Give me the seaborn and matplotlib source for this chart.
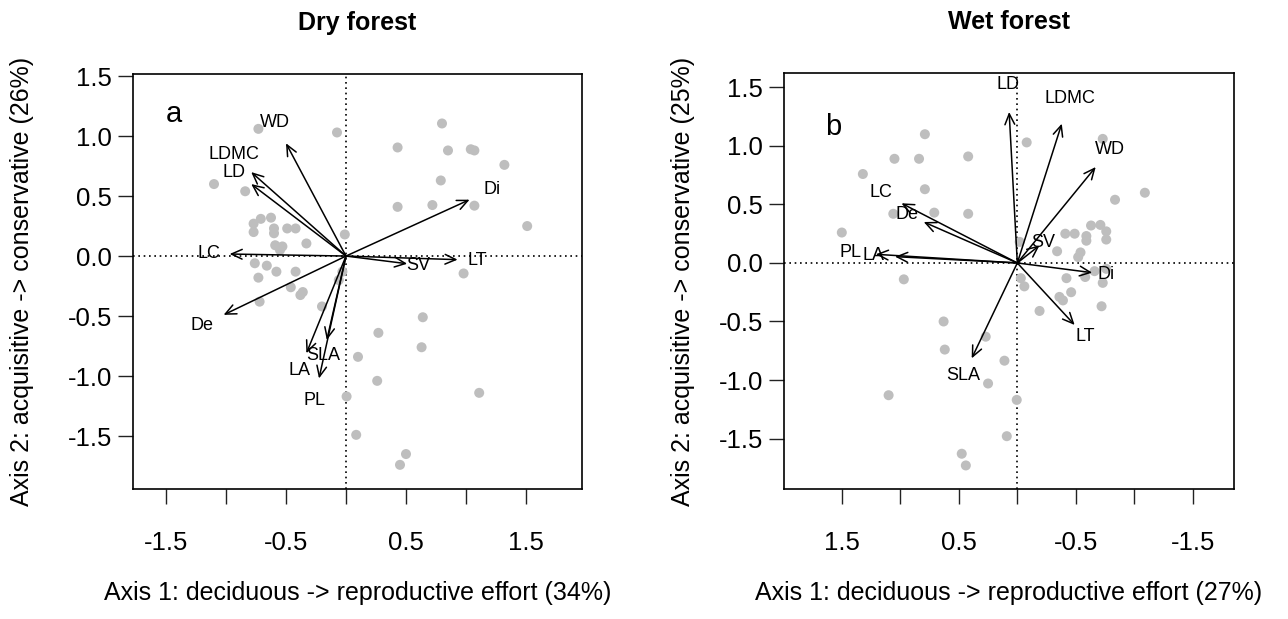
import numpy as np
import pandas as pd
import matplotlib
matplotlib.use("Agg")
import matplotlib.pyplot as plt
import seaborn as sns

# --- data ---
# Dry forest (panel a): species scores
dry_x = [-0.73, -0.075, -1.10, -0.84, -0.71, -0.625, -0.77, -0.77, -0.60, -0.60,
         -0.49, -0.42, -0.33, -0.59, -0.53, -0.55, -0.01, -0.76, -0.66, -0.58,
         -0.42, -0.73, -0.46, -0.36, -0.38, -0.72, -0.20, -0.03, -0.06, 0.10,
         0.005, 0.085, 0.98, 0.64, 0.27, 0.63, 0.26, 1.11, 0.50, 0.45,
         0.80, 0.43, 0.85, 1.04, 1.07, 1.32, 0.79, 0.43, 0.72, 1.07, 1.51]
dry_y = [1.06, 1.03, 0.60, 0.54, 0.31, 0.32, 0.27, 0.20, 0.23, 0.19,
         0.23, 0.23, 0.105, 0.09, 0.08, 0.05, 0.18, -0.06, -0.08, -0.13,
         -0.13, -0.18, -0.26, -0.30, -0.325, -0.38, -0.42, -0.13, -0.20, -0.84,
         -1.17, -1.49, -0.145, -0.51, -0.64, -0.76, -1.04, -1.14, -1.65, -1.74,
         1.105, 0.905, 0.88, 0.89, 0.88, 0.76, 0.63, 0.41, 0.425, 0.42, 0.25]

# Dry forest: trait vectors
dry_traits = ["WD", "LDMC", "LD", "LC", "Di", "LT", "SV", "De", "LA", "SLA", "PL"]
dry_tx = [-0.50, -0.79, -0.79, -0.97, 1.03, 0.93, 0.51, -1.02, -0.33, -0.16, -0.225]
dry_ty = [0.94, 0.70, 0.60, 0.017, 0.47, -0.03, -0.064, -0.49, -0.81, -0.70, -1.02]

# Wet forest (panel b): species scores
wet_x = [0.79, 1.05, 0.84, 0.42, 1.32, 0.79, 1.06, 0.71, 0.42, 1.50, 0.97,
         -0.08, -0.73, -1.09, -0.835, -0.63, -0.71, -0.76, -0.41, -0.49, -0.59,
         -0.59, -0.76, -0.02, -0.34, -0.54, -0.52, -0.66, -0.76, -0.42, -0.58,
         -0.73, -0.03, -0.06, -0.46, -0.36, -0.39, -0.72, -0.19, 0.27, 0.11,
         0.25, 0.005, 0.09, 0.475, 0.44, 0.63, 0.62, 1.10]
wet_y = [1.10, 0.89, 0.89, 0.91, 0.76, 0.63, 0.42, 0.43, 0.42, 0.26, -0.14,
         1.03, 1.06, 0.60, 0.54, 0.32, 0.325, 0.27, 0.25, 0.25, 0.23,
         0.19, 0.20, 0.18, 0.10, 0.09, 0.05, -0.07, -0.05, -0.13, -0.12,
         -0.17, -0.13, -0.20, -0.25, -0.29, -0.32, -0.37, -0.41, -0.63, -0.835,
         -1.03, -1.17, -1.48, -1.63, -1.73, -0.50, -0.74, -1.13]

# Wet forest: trait vectors
wet_traits = ["LC", "De", "PL", "LA", "LD", "LDMC", "WD", "SV", "Di", "LT", "SLA"]
wet_tx = [0.99, 0.80, 1.21, 1.045, 0.07, -0.38, -0.67, -0.19, -0.64, -0.49, 0.39]
wet_ty = [0.51, 0.35, 0.074, 0.054, 1.29, 1.19, 0.82, 0.15, -0.083, -0.53, -0.815]

ticks = [-1.5, -1.0, -0.5, 0.0, 0.5, 1.0, 1.5]
xtick_labels = ["-1.5", "", "-0.5", "", "0.5", "", "1.5"]
ytick_labels = ["-1.5", "-1.0", "-0.5", "0.0", "0.5", "1.0", "1.5"]

sns.set_style("ticks")
plt.rcParams['font.family'] = ['Liberation Sans', 'DejaVu Sans']
plt.rcParams['axes.unicode_minus'] = False
plt.rcParams['text.color'] = 'black'
plt.rcParams['axes.labelcolor'] = 'black'
plt.rcParams['xtick.color'] = 'black'
plt.rcParams['ytick.color'] = 'black'


def draw_panel(ax, px, py, traits, tx, ty, xlim, ylim, letter, letter_pos,
               title, xlab, ylab, ylab_x, nudge=None):
    nudge = nudge or {}
    df = pd.DataFrame({"x": px, "y": py})
    sns.scatterplot(data=df, x="x", y="y", ax=ax, color="#BEBEBE", s=52,
                    edgecolor="none", linewidth=0, zorder=2)
    ax.axhline(0, color="black", lw=1.2, ls=(0, (1, 2.2)), zorder=1)
    ax.axvline(0, color="black", lw=1.2, ls=(0, (1, 2.2)), zorder=1)
    for name, x, y in zip(traits, tx, ty):
        ax.annotate("", xy=(x, y), xytext=(0, 0),
                    arrowprops=dict(arrowstyle="->,head_length=0.55,head_width=0.25",
                                    lw=1.1, color="black", shrinkA=0, shrinkB=0,
                                    mutation_scale=14), zorder=3)
        # label just beyond the arrow tip (small nudge where two labels collide)
        ax.annotate(name, xy=(x * 1.18, y * 1.18), xytext=nudge.get(name, (0, 0)),
                    textcoords="offset points", ha="center", va="center",
                    fontsize=13, color="black", zorder=4)
    ax.text(letter_pos[0], letter_pos[1], letter, transform=ax.transAxes,
            ha="center", va="center", fontsize=21, color="black")

    ax.set_xlim(*xlim)
    ax.set_ylim(*ylim)
    ax.set_xticks(ticks)
    ax.set_xticklabels(xtick_labels)
    ax.set_yticks(ticks)
    ax.set_yticklabels(ytick_labels)
    ax.tick_params(axis="both", direction="out", length=10.8, width=1.0,
                   labelsize=18.5, color="#222222", labelcolor="black")
    ax.tick_params(axis="x", pad=19)
    ax.tick_params(axis="y", pad=4.5)
    for sp in ax.spines.values():
        sp.set_visible(True)
        sp.set_color("black")
        sp.set_linewidth(1.2)

    ax.set_title(title, fontsize=18, fontweight="bold", pad=32, color="black")
    ax.set_xlabel(xlab, fontsize=18)
    ax.set_ylabel(ylab, fontsize=18)
    ax.xaxis.set_label_coords(0.5, -0.25)
    ax.xaxis.label.set_va("center")
    ax.yaxis.set_label_coords(ylab_x, 0.5)
    ax.yaxis.label.set_va("center")


fig = plt.figure(figsize=(12.88, 6.19), dpi=100)
ax_a = fig.add_axes([0.1035, 0.2095, 0.3481, 0.6709])
ax_b = fig.add_axes([0.6087, 0.2095, 0.3493, 0.672])

draw_panel(ax_a, dry_x, dry_y, dry_traits, dry_tx, dry_ty,
           (-1.7725, 1.964), (-1.944, 1.517), "a", (0.091, 0.904),
           "Dry forest", "Axis 1: deciduous -> reproductive effort (34%)",
           "Axis 2: acquisitive -> conservative (26%)", -0.248,
           nudge={"LDMC": (0, 1.5), "LD": (0, -1.0)})
draw_panel(ax_b, wet_x, wet_y, wet_traits, wet_tx, wet_ty,
           (1.994, -1.851), (-1.934, 1.62), "b", (0.11, 0.872),
           "Wet forest", "Axis 1: deciduous -> reproductive effort (27%)",
           "Axis 2: acquisitive -> conservative (25%)", -0.2245)

fig.savefig("out.png", dpi=100)
